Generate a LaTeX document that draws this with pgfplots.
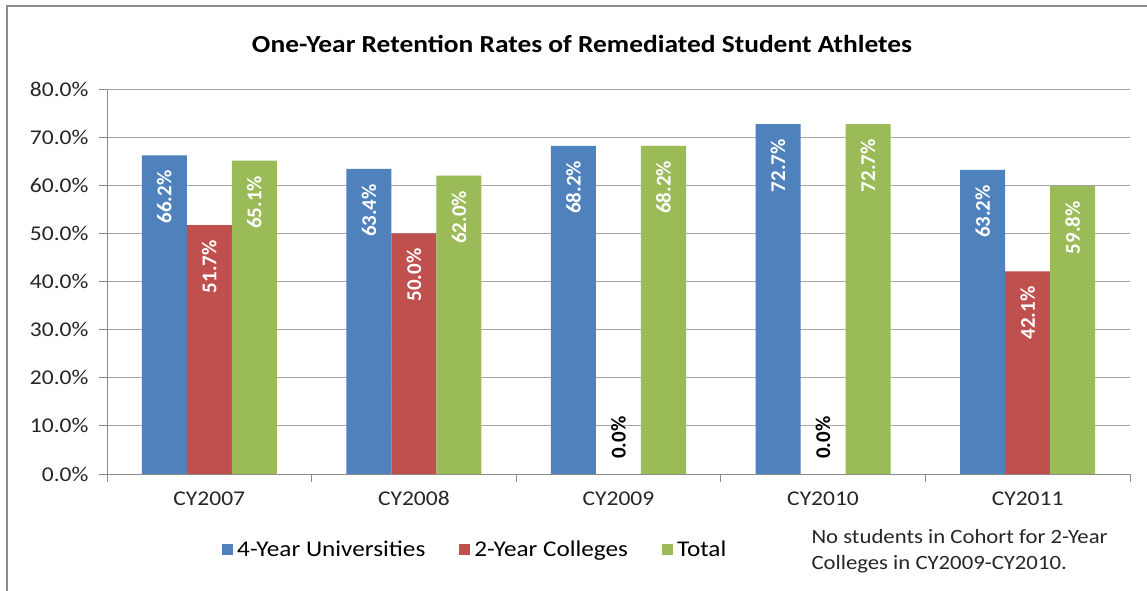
\documentclass[border=0pt]{standalone}
\usepackage{fontspec}
\setmainfont{Carlito}[FakeStretch=1.12]
\newfontfamily\lblfont{Carlito}
\usepackage{pgfplots}
\pgfplotsset{compat=1.18}
\definecolor{cblue}{HTML}{4F81BD}
\definecolor{cred}{HTML}{C0504D}
\definecolor{cgreen}{HTML}{9BBB59}
\definecolor{cgrid}{HTML}{A6A6A6}
\definecolor{cframe}{HTML}{8C8C8C}
\pgfplotsset{sqlegend/.style={legend image code/.code={\fill[#1] (0pt,-5.5pt) rectangle (11pt,5.5pt);}}}
\pgfplotstableread{
x  univ  coll  total
0  66.2  51.7  65.1
1  63.4  50.0  62.0
2  68.2  0     68.2
3  72.7  0     72.7
4  63.2  42.1  59.8
}\datatab
\begin{document}
\begin{tikzpicture}
\clip (0,0) rectangle (1147pt,-590pt);
\fill[white] (0,0) rectangle (1147pt,-590pt);
\draw[cframe, line width=2.2pt] (7pt,-6pt) rectangle (1170pt,-620pt);
\node[font=\fontsize{24.5}{28}\selectfont\bfseries] at (582pt,-44pt) {One-Year Retention Rates of Remediated Student Athletes};
\begin{axis}[
  at={(107pt,-474pt)}, anchor=south west,
  scale only axis, width=1023pt, height=385pt,
  xmin=-0.5, xmax=4.5, ymin=0, ymax=80,
  ytick={0,10,...,80},
  xtick={0,1,2,3,4},
  xticklabels={CY2007,CY2008,CY2009,CY2010,CY2011},
  minor xtick={-0.5,0.5,1.5,2.5,3.5,4.5},
  major x tick style={draw=none},
  tick align=outside,
  major tick length=8pt, minor tick length=8pt,
  tick style={cframe, line width=0.8pt},
  axis lines*=left,
  axis line style={cframe, line width=1pt},
  ymajorgrids, grid style={cgrid, line width=0.9pt},
  /pgf/number format/assume math mode=true,
  yticklabel={\pgfmathprintnumber[fixed,fixed zerofill,precision=1]{\tick}\%},
  ticklabel style={font=\fontsize{21}{24}\selectfont, text=black!85},
  xticklabel style={yshift=-6pt},
  yticklabel style={xshift=-7pt},
  legend style={at={(0.361,-0.195)}, anchor=center, draw=none, fill=none,
    font=\fontsize{22.5}{26}\selectfont, legend columns=3,
    /tikz/every even column/.append style={column sep=30pt},
    nodes={inner xsep=4pt}},
  ybar=0pt, bar width=0.22,
  visualization depends on={rawy \as \rawy},
  nodes near coords={\ifdim\rawy pt<0.5pt\makebox[0pt][l]{\hspace{31pt}\color{black}0.0\%}\else\pgfmathprintnumber[fixed,fixed zerofill,precision=1]{\rawy}\%\fi},
  nodes near coords style={font=\lblfont\fontsize{21}{24}\selectfont\bfseries, text=white,
    inner sep=0pt, yshift=-15pt, rotate=90, anchor=east},
]
\addplot[fill=cblue, draw=none, sqlegend] table[x=x, y=univ] {\datatab};
\addlegendentry{4-Year Universities}
\addplot[fill=cred, draw=none, sqlegend] table[x=x, y=coll] {\datatab};
\addlegendentry{2-Year Colleges}
\addplot[fill=cgreen, draw=none, sqlegend] table[x=x, y=total] {\datatab};
\addlegendentry{Total}
\end{axis}
\node[anchor=north west, align=left, font=\fontsize{20.3}{26}\selectfont, text=black!85]
  at (808pt,-526pt) {No students in Cohort for 2-Year\\Colleges in CY2009-CY2010.};
\end{tikzpicture}
\end{document}
